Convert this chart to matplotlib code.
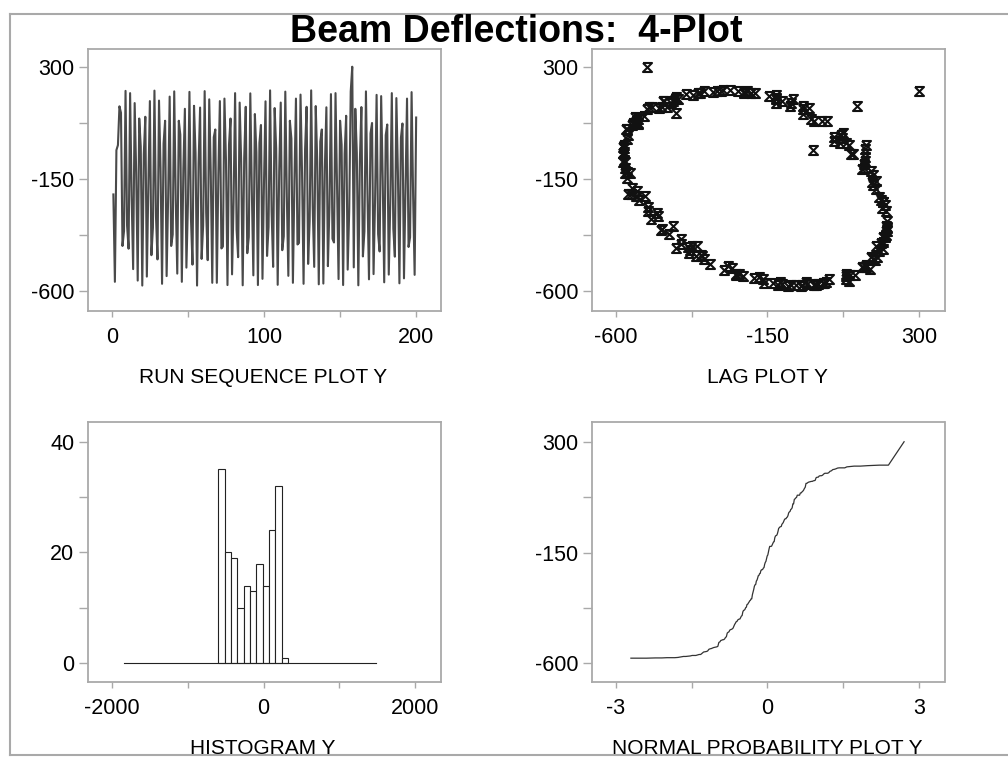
from statistics import NormalDist

import matplotlib
matplotlib.use("Agg")
import matplotlib.pyplot as plt
import numpy as np
from matplotlib.lines import Line2D
from matplotlib.path import Path

plt.rcParams['font.family'] = ['Liberation Sans', 'DejaVu Sans']
plt.rcParams['axes.unicode_minus'] = False

# beam deflection measurements, in run order
deflection = [
    -213, -564, -35, -15, 141, 115, -420, -360, 203, -338,
    -431, 194, -220, -513, 154, -125, -559, 92, -21, -579,
    -52, 99, -543, -175, 162, -457, -346, 204, -300, -474,
    164, -107, -572, -8, 83, -541, -224, 180, -420, -374,
    201, -236, -531, 83, 27, -564, -112, 131, -507, -254,
    199, -311, -495, 143, -46, -579, -90, 136, -472, -338,
    202, -287, -477, 169, -124, -568, 17, 48, -568, -135,
    162, -430, -422, 172, -74, -577, -13, 92, -534, -243,
    194, -355, -465, 156, -81, -578, -64, 139, -449, -384,
    193, -198, -538, 110, -44, -577, -6, 66, -552, -164,
    161, -460, -344, 205, -281, -504, 134, -28, -576, -118,
    156, -437, -381, 200, -220, -540, 83, 11, -568, -160,
    172, -414, -408, 188, -125, -572, -32, 139, -492, -321,
    205, -262, -504, 142, -83, -574, 0, 48, -571, -106,
    137, -501, -266, 190, -391, -406, 194, -186, -553, 83,
    -13, -577, -49, 103, -515, -280, 201, 300, -506, 131,
    -45, -578, -80, 138, -462, -361, 201, -211, -554, 32,
    74, -533, -235, 187, -372, -442, 182, -147, -566, 25,
    68, -535, -244, 194, -351, -463, 174, -125, -570, 15,
    72, -550, -190, 172, -424, -385, 198, -218, -536, 96,
]

# histogram counts of the non-empty classes
hist_counts = [35, 20, 19, 10, 14, 13, 18, 14, 24, 32, 1]
first_class = 15  # index of the first non-empty class

title = "Beam Deflections:  4-Plot"
labels = ["RUN SEQUENCE PLOT Y", "LAG PLOT Y", "HISTOGRAM Y", "NORMAL PROBABILITY PLOT Y"]

W, H = 1008, 758
GRAY = '#a9a9a9'


def style_axes(ax, xmaj, xmin, ymaj, ymin):
    for sp in ax.spines.values():
        sp.set_color(GRAY)
        sp.set_linewidth(1.3)
    ax.set_xticks(xmaj)
    ax.set_xticks(xmin, minor=True)
    ax.set_yticks(ymaj)
    ax.set_yticks(ymin, minor=True)
    ax.tick_params(axis='x', which='both', direction='out', length=4.5, width=1,
                   color=GRAY, pad=7, labelsize=15.5)
    ax.tick_params(axis='y', which='both', direction='out', length=6.5, width=1,
                   color=GRAY, pad=3, labelsize=15.5)


def px_axes(fig, x0, y0, x1, y1):
    return fig.add_axes([x0 / W, 1 - y1 / H, (x1 - x0) / W, (y1 - y0) / H])


def main():
    y = np.array(deflection, dtype=float)
    n = len(y)
    fig = plt.figure(figsize=(W / 100, H / 100), dpi=100)

    # run sequence
    ax = px_axes(fig, 87.5, 49.3, 440.5, 310.7)
    ax.plot(np.arange(1, n + 1), y, color='#4a4a4a', lw=1.5)
    ax.set_xlim(-16, 216)
    ax.set_ylim(-680, 370)
    style_axes(ax, [0, 100, 200], [50, 150], [300, -150, -600], [75, -375])

    # lag plot, X-shaped symbols with top and bottom bars
    marker = Path([(-0.5, 0.5), (0.5, 0.5), (-0.5, -0.5), (0.5, -0.5), (-0.5, 0.5)],
                  [Path.MOVETO, Path.LINETO, Path.LINETO, Path.LINETO, Path.LINETO])
    ax = px_axes(fig, 591.5, 49.3, 944.5, 310.7)
    ax.plot(y[1:], y[:-1], ls='none', marker=marker, ms=6.5, mew=1.5,
            mec='#111111', mfc='none')
    ax.set_xlim(-672, 375)
    ax.set_ylim(-680, 370)
    style_axes(ax, [-600, -150, 300], [-375, 75], [300, -150, -600], [75, -375])

    # histogram, class width 0.3 sd, classes from mean - 6 sd to mean + 6 sd
    mean, sd = y.mean(), y.std(ddof=1)
    width = 0.3 * sd
    lo, hi = mean - 6 * sd, mean + 6 * sd
    lefts = lo + width * np.arange(first_class, first_class + len(hist_counts))
    ax = px_axes(fig, 87.5, 422.3, 440.5, 682.3)
    ax.plot([lo, hi], [0, 0], color='#222222', lw=0.8)
    ax.bar(lefts, hist_counts, width=width, align='edge', facecolor='white',
           edgecolor='#222222', lw=0.8)
    ax.set_xlim(-2320, 2333)
    ax.set_ylim(-3.43, 43.5)
    style_axes(ax, [-2000, 0, 2000], [-1000, 1000], [0, 20, 40], [10, 30])

    # normal probability plot (order statistic medians)
    m = (np.arange(1, n + 1) - 0.3175) / (n + 0.365)
    m[-1] = 0.5 ** (1.0 / n)
    m[0] = 1 - m[-1]
    q = np.array([NormalDist().inv_cdf(p) for p in m])
    ax = px_axes(fig, 591.5, 422.3, 944.5, 682.3)
    ax.plot(q, np.sort(y), color='#333333', lw=0.9)
    ax.set_xlim(-3.48, 3.5)
    ax.set_ylim(-677, 379)
    style_axes(ax, [-3, 0, 3], [-1.5, 1.5], [300, -150, -600], [75, -375])

    # axis captions and title
    for (cx, cy), txt in zip([(263, 377), (767, 377), (263, 749), (767, 749)], labels):
        fig.text(cx / W, 1 - cy / H, txt, ha='center', va='center', fontsize=15)
    fig.text(516 / W, 1 - 42 / H, title, ha='center', va='baseline',
             fontsize=27, fontweight='bold')

    # outer frame
    for xs, ys in [([10, 10], [14, 755]), ([10, W], [14, 14]), ([10, W], [755, 755])]:
        fig.add_artist(Line2D(np.array(xs) / W, 1 - np.array(ys) / H,
                              color=GRAY, lw=1.5, transform=fig.transFigure))

    fig.savefig('out.png', dpi=100)


if __name__ == "__main__":
    main()
